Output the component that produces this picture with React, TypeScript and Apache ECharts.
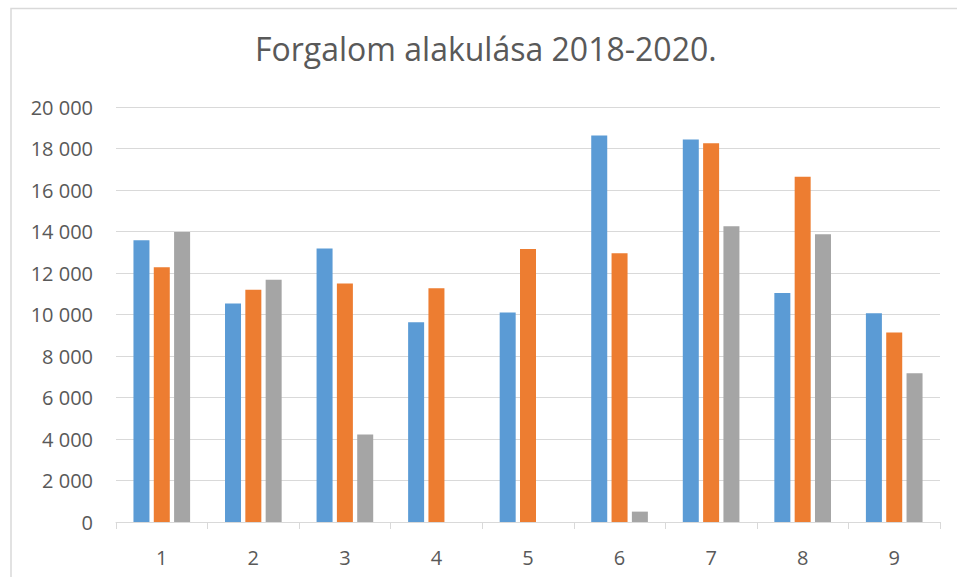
import React, { useEffect, useRef } from "react";
import * as echarts from "echarts";

const categories = ["1", "2", "3", "4", "5", "6", "7", "8", "9"];
const seriesNames = ["2018", "2019", "2020"];
const values2018 = [13580, 10530, 13180, 9630, 10100, 18630, 18430, 11040, 10060];
const values2019 = [12280, 11190, 11490, 11270, 13160, 12950, 18250, 16640, 9130];
const values2020 = [13980, 11670, 4220, null, null, 500, 14250, 13870, 7170];
const colors = ["#5B9BD5", "#ED7D31", "#A5A5A5"];
const titleText = "Forgalom alakulása 2018-2020.";

const fmt = (v: number) => String(v).replace(/\B(?=(\d{3})+(?!\d))/g, " ");

export default function App() {
  const ref = useRef<HTMLDivElement>(null);
  useEffect(() => {
    if (!ref.current) return;
    const chart = echarts.init(ref.current, null, { renderer: "svg" });
    const font = "'Open Sans', 'Noto Sans', sans-serif";
    const data = [values2018, values2019, values2020];
    chart.setOption({
      animation: false,
      backgroundColor: "#ffffff",
      textStyle: { fontFamily: font },
      title: {
        text: titleText,
        left: 255,
        top: 32,
        padding: 0,
        textStyle: { fontFamily: font, fontSize: 32, fontWeight: "normal", color: "#595959" },
      },
      graphic: [
        {
          type: "rect",
          shape: { x: 11, y: 8.5, width: 1000, height: 1000 },
          style: { fill: "none", stroke: "#d9d9d9", lineWidth: 1.5 },
          silent: true,
        },
      ],
      grid: { left: 116, right: 17, top: 107, bottom: 55, containLabel: false },
      xAxis: {
        type: "category",
        data: categories,
        axisLine: { lineStyle: { color: "#d9d9d9", width: 1 } },
        axisTick: { show: true, length: 7, lineStyle: { color: "#d9d9d9" } },
        axisLabel: { color: "#595959", fontSize: 20, margin: 25, fontFamily: font },
      },
      yAxis: {
        type: "value",
        min: 0,
        max: 20000,
        interval: 2000,
        axisLine: { show: false },
        axisTick: { show: false },
        splitLine: { lineStyle: { color: "#d9d9d9", width: 1 } },
        axisLabel: {
          color: "#595959",
          fontSize: 20,
          margin: 23,
          fontFamily: font,
          formatter: (v: number) => fmt(v),
        },
      },
      series: seriesNames.map((name, i) => ({
        name,
        type: "bar",
        data: data[i],
        barWidth: 16,
        barGap: "27%",
        itemStyle: { color: colors[i] },
      })),
    });
    return () => chart.dispose();
  }, []);
  return (
    <div
      ref={ref}
      style={{ position: "fixed", left: 0, top: 0, width: 957, height: 577 }}
    />
  );
}
